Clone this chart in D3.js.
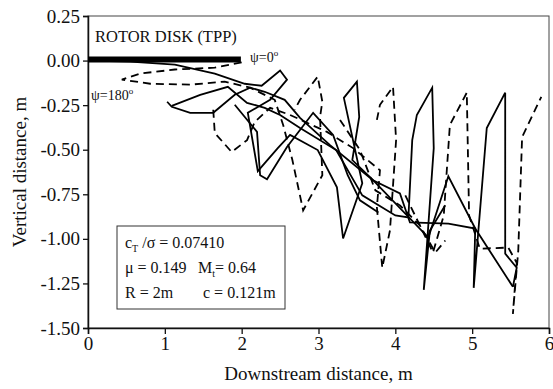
<!DOCTYPE html>
<html>
<head>
<meta charset="utf-8">
<script src="https://cdn.jsdelivr.net/npm/d3@7"></script>
<style>
  body { margin: 0; background: #fff; }
</style>
</head>
<body>
<svg id="chart" width="553" height="389"></svg>
<script>
// axis ticks
const xTicks = [0, 1, 2, 3, 4, 5, 6];
const yTicks = [0.25, 0, -0.25, -0.5, -0.75, -1, -1.25, -1.5];
const yTickLabels = ["0.25", "0.00", "-0.25", "-0.50", "-0.75", "-1.00", "-1.25", "-1.50"];

// rotor disk (tip path plane), metres
const diskX = [0, 1.99];
const diskY = [0.006, 0.006];

// tip vortex trajectories, [x, y] in metres
const solidA = [[0,0],[0.55,-0.006],[1.13,-0.023],[1.65,-0.073],[2.04,-0.13],[2.26,-0.141],[2.5,-0.056],[2.59,-0.107],
  [2.37,-0.22],[2.08,-0.293],[2.21,-0.62],[2.47,-0.491],[2.63,-0.417],[2.99,-0.502],[3.24,-0.711],[3.32,-0.998],
  [3.57,-0.688],[3.33,-0.209],[3.5,-0.118],[3.53,-0.316],[3.44,-0.558],[3.71,-0.671],[4.06,-0.745],[4.19,-0.908],
  [4.69,-0.914],[5.04,-0.942],[5.02,-1.275],[5.19,-0.378],[5.43,-0.18],[5.43,-1.083],[5.58,-1.162],[5.53,-1.269]];
const solidB = [[1.03,-0.231],[1.09,-0.259],[1.33,-0.293],[1.63,-0.293],[1.91,-0.192],[2.11,-0.152],[2.3,-0.175],
  [2.56,-0.22],[2.76,-0.321],[3.15,-0.474],[3.71,-0.671],[4.43,-0.993],[4.69,-0.649],[5.04,-0.942],[5.53,-1.269]];
const solidC = [[1.09,-0.254],[1.46,-0.192],[1.82,-0.147],[2.07,-0.237],[2.3,-0.265],[2.5,-0.305],[2.76,-0.378],
  [3.23,-0.502],[3.57,-0.756],[4.0,-0.869],[4.17,-0.88],[4.22,-0.446],[4.28,-0.305],[4.48,-0.152],[4.5,-0.491],
  [4.37,-1.286],[4.45,-0.953],[4.65,-0.812]];
const solidD = [[1.91,-0.248],[2.2,-0.4],[2.24,-0.643],[2.33,-0.666],[2.59,-0.485],[2.93,-0.293],[3.19,-0.417],
  [3.38,-0.643],[3.54,-0.784],[3.78,-0.852]];
const dashA = [[2.0,-0.01],[1.65,-0.04],[1.13,-0.05],[0.68,-0.073],[0.44,-0.107],[0.81,-0.13],[1.33,-0.135],
  [1.78,-0.118],[2.11,-0.152],[2.43,-0.22],[2.54,-0.361],[2.66,-0.558],[2.8,-0.84],[3.05,-0.643],[3.02,-0.316],
  [3.05,-0.231],[2.99,-0.09],[2.76,-0.22],[2.69,-0.276]];
const dashB = [[1.63,-0.276],[1.65,-0.406],[1.87,-0.513],[2.07,-0.446],[2.17,-0.344],[2.37,-0.265],[2.63,-0.305],
  [3.11,-0.4],[3.45,-0.491],[3.8,-0.615],[3.76,-0.823],[3.83,-1.162],[3.93,-0.953],[4.01,-0.446],[3.97,-0.147],
  [3.8,-0.248],[3.76,-0.333]];
const dashC = [[4.13,-0.756],[4.49,-1.077],[4.63,-0.869],[4.71,-0.361],[4.93,-0.18],[4.96,-0.869],[5.1,-1.055],
  [5.47,-1.049],[5.58,-1.134],[5.53,-1.421],[5.6,-1.066],[5.65,-0.429],[5.9,-0.203]];
const dashD = [[3.28,-0.333],[3.54,-0.502],[3.74,-0.728],[4.06,-0.812],[4.32,-0.925],[4.52,-1.077],[4.65,-1.009]];

const solidLines = [solidA, solidB, solidC, solidD];
const dashedLines = [dashA, dashB, dashC, dashD];

const serif = '"Liberation Serif", "Times New Roman", serif';
const W = 553, H = 389;
const margin = { top: 16, right: 4, bottom: 61, left: 88 };
const width = W - margin.left - margin.right;
const height = H - margin.top - margin.bottom;

const svg = d3.select("#chart");
const g = svg.append("g").attr("transform", "translate(" + margin.left + "," + margin.top + ")");

const x = d3.scaleLinear().domain([0, 6]).range([0, width]);
const y = d3.scaleLinear().domain([-1.5, 0.25]).range([height, 0]);

// frame
g.append("rect")
  .attr("width", width).attr("height", height)
  .attr("fill", "none").attr("stroke", "#444").attr("stroke-width", 1);

// axes
const xAxis = g.append("g")
  .attr("transform", "translate(0," + height + ")")
  .call(d3.axisBottom(x).tickValues(xTicks).tickFormat(d3.format("d")).tickSize(6).tickPadding(3));
const yAxis = g.append("g")
  .call(d3.axisLeft(y).tickValues(yTicks).tickFormat((d, i) => yTickLabels[i]).tickSize(5).tickPadding(3));

[xAxis, yAxis].forEach(a => {
  a.select(".domain").attr("stroke", "#111").attr("stroke-width", 1.5);
  a.selectAll(".tick line").attr("stroke", "#111").attr("stroke-width", 1.3);
  a.selectAll("text").style("font-family", serif).style("font-size", "19px").attr("fill", "#111");
});

// axis titles
svg.append("text")
  .attr("x", margin.left + width / 2).attr("y", 380)
  .attr("text-anchor", "middle")
  .style("font-family", serif).style("font-size", "19px").attr("fill", "#111")
  .text("Downstream distance, m");
svg.append("text")
  .attr("transform", "translate(26," + (margin.top + height / 2) + ") rotate(-90)")
  .attr("text-anchor", "middle")
  .style("font-family", serif).style("font-size", "19px").attr("fill", "#111")
  .text("Vertical distance, m");

// trajectories
const line = d3.line().x(d => x(d[0])).y(d => y(d[1]));

g.selectAll(".solid")
  .data(solidLines)
  .enter()
  .append("path")
  .attr("class", "solid")
  .attr("d", line)
  .attr("fill", "none").attr("stroke", "#000").attr("stroke-width", 1.8)
  .attr("stroke-linejoin", "miter");

g.selectAll(".dashed")
  .data(dashedLines)
  .enter()
  .append("path")
  .attr("class", "dashed")
  .attr("d", line)
  .attr("fill", "none").attr("stroke", "#000").attr("stroke-width", 1.8)
  .attr("stroke-dasharray", "8,5");

// rotor disk bar
g.append("path")
  .attr("d", line(diskX.map((d, i) => [d, diskY[i]])))
  .attr("stroke", "#000").attr("stroke-width", 6);

// annotations
const ann = g.append("g").style("font-family", serif).attr("fill", "#111");
ann.append("text").attr("x", 7).attr("y", 26).style("font-size", "16.5px").text("ROTOR DISK  (TPP)");

const psi0 = ann.append("text").attr("x", 162).attr("y", 46).style("font-size", "14px");
psi0.append("tspan").text("\u03c8=0");
psi0.append("tspan").style("font-size", "9px").attr("dy", -6).text("o");

const psi180 = ann.append("text").attr("x", 3).attr("y", 84).style("font-size", "14px");
psi180.append("tspan").text("\u03c8=180");
psi180.append("tspan").style("font-size", "9px").attr("dy", -6).text("o");

// parameter box
const box = ann.append("g").attr("transform", "translate(29,210)");
box.append("rect").attr("width", 168).attr("height", 83)
  .attr("fill", "#fff").attr("stroke", "#333").attr("stroke-width", 1);

const t1 = box.append("text").attr("x", 8).attr("y", 22).style("font-size", "16px");
t1.append("tspan").text("c");
t1.append("tspan").style("font-size", "10px").attr("dy", 4).text("T");
t1.append("tspan").attr("dy", -4).text(" /\u03c3 = 0.07410");

box.append("text").attr("x", 8).attr("y", 47).style("font-size", "16px").text("\u03bc = 0.149");
const t2 = box.append("text").attr("x", 81).attr("y", 47).style("font-size", "16px");
t2.append("tspan").text("M");
t2.append("tspan").style("font-size", "10px").attr("dy", 4).text("t");
t2.append("tspan").attr("dy", -4).text("= 0.64");

box.append("text").attr("x", 8).attr("y", 72).style("font-size", "16px").text("R = 2m");
box.append("text").attr("x", 86).attr("y", 72).style("font-size", "16px").text("c = 0.121m");
</script>
</body>
</html>
